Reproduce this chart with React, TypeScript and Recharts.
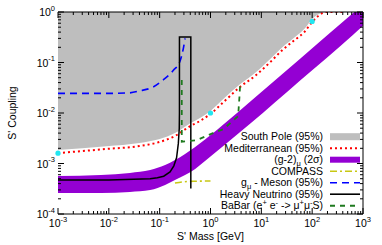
import React from 'react';
import { Area, ComposedChart, Line, Scatter, XAxis, YAxis } from 'recharts';

const FONT = '"Liberation Sans", Arial, Helvetica, sans-serif';

// axis decades (tick labels are 10^n)
const xDecades = [-3, -2, -1, 0, 1, 2, 3];
const yDecades = [-4, -3, -2, -1, 0];

// South Pole (95%): excluded region above this edge
const southPoleMass = [0.001, 0.009, 0.04, 0.1, 0.2, 0.4, 0.62, 1, 1.9, 3.8, 7.5, 15, 26, 48, 70, 100, 165];
const southPoleEdge = [1.85e-3, 2.2e-3, 2.55e-3, 3.05e-3, 4.0e-3, 6.3e-3, 8.0e-3, 0.011, 0.02, 0.037, 0.062, 0.117, 0.2, 0.33, 0.46, 0.73, 1.0];

// Mediterranean (95%)
const medMass = [0.001, 0.009, 0.04, 0.1, 0.2, 0.4, 0.62, 1, 1.9, 3.8, 7.5, 15, 26, 48, 70, 100, 190, 400];
const medCoupling = [1.61e-3, 1.94e-3, 2.22e-3, 2.67e-3, 3.5e-3, 5.5e-3, 6.95e-3, 9.6e-3, 0.0173, 0.0327, 0.054, 0.102, 0.177, 0.292, 0.4, 0.634, 1.0, 1.0];

// (g-2)_mu 2 sigma band
const g2Mass = [0.001, 0.007, 0.026, 0.065, 0.128, 0.2, 0.316, 0.5, 0.78, 6, 58, 640, 1000];
const g2Low = [2.6e-4, 2.6e-4, 2.73e-4, 2.98e-4, 3.75e-4, 4.7e-4, 5.9e-4, 7.8e-4, 1.12e-3, 6.1e-3, 0.044, 0.356, 0.537];
const g2High = [5.65e-4, 5.9e-4, 6.5e-4, 7.4e-4, 9.3e-4, 1.17e-3, 1.54e-3, 2.12e-3, 2.98e-3, 0.0167, 0.119, 0.955, 1.4];

// COMPASS
const compassMass = [0.2, 0.3, 0.5, 1.0];
const compassCoupling = [4.1e-4, 4.35e-4, 4.45e-4, 4.5e-4];

// g_mu - Meson (95%)
const mesonMass = [0.001, 0.01, 0.025, 0.041, 0.076, 0.117, 0.186, 0.25, 0.295, 0.316];
const mesonCoupling = [0.0245, 0.0245, 0.025, 0.0275, 0.033, 0.045, 0.07, 0.105, 0.2, 0.3];

// Heavy Neutrino (95%)
const hnMass = [0.001, 0.01, 0.065, 0.09, 0.12, 0.16, 0.19, 0.215, 0.233, 0.243, 0.245, 0.245, 0.41, 0.41];
const hnCoupling = [4.7e-4, 4.7e-4, 5.0e-4, 5.2e-4, 5.6e-4, 6.8e-4, 9e-4, 1.3e-3, 2.5e-3, 5e-3, 0.01, 0.32, 0.32, 3.2e-4];

// BaBar (e+ e- -> mu+ mu- S)
const babarMass = [0.272, 0.272, 0.54, 1.12, 1.8, 2.63, 3.5, 3.7, 3.83];
const babarCoupling = [0.045, 0.0027, 0.0029, 0.004, 0.0048, 0.0067, 0.0087, 0.02, 0.036];

// cyan markers
const markMass = [0.001, 1, 100];
const markCoupling = [1.6e-3, 0.01, 0.65];

const pts = (xs: number[], ys: number[]) => xs.map((x, i) => ({ x, y: ys[i] }));

const southPoleData = southPoleMass.map((x, i) => ({ x, lo: southPoleEdge[i], hi: 1 }));
const g2Data = g2Mass.map((x, i) => ({ x, lo: g2Low[i], hi: g2High[i] }));

const minorOf = (decades: number[]) => {
  const out: number[] = [];
  decades.forEach((d, i) => {
    out.push(Math.pow(10, d));
    if (i < decades.length - 1) for (let k = 2; k <= 9; k++) out.push(k * Math.pow(10, d));
  });
  return out;
};
const xTicks = minorOf(xDecades);
const yTicks = minorOf(yDecades);

const exp = (v: number) => Math.log10(v);
const isDecade = (v: number) => Math.abs(exp(v) - Math.round(exp(v))) < 1e-6;

// plot box edges (chart margins + axis sizes)
const LEFT = 58;
const RIGHT = 363;

const MAJ = 6;
const MIN = 3;

function BottomTick({ x, y, payload }: any) {
  const v = payload.value;
  const major = isDecade(v);
  return (
    <g>
      <line x1={x} x2={x} y1={y} y2={y - (major ? MAJ : MIN)} stroke="#000" />
      {major && (
        <text x={x} y={y + 13} textAnchor="middle" fontSize={10.5} fontFamily={FONT} fill="#000">
          10
          <tspan dy={-5.5} fontSize={7.5}>{Math.round(exp(v))}</tspan>
        </text>
      )}
    </g>
  );
}

function TopTick({ x, y, payload }: any) {
  const major = isDecade(payload.value);
  return <line x1={x} x2={x} y1={y} y2={y + (major ? MAJ : MIN)} stroke="#000" />;
}

function LeftTick({ y, payload }: any) {
  const v = payload.value;
  const major = isDecade(v);
  return (
    <g>
      <line x1={LEFT} x2={LEFT + (major ? MAJ : MIN)} y1={y} y2={y} stroke="#000" />
      {major && (
        <text x={LEFT - 3} y={y + 4} textAnchor="end" fontSize={10.5} fontFamily={FONT} fill="#000">
          10
          <tspan dy={-5.5} fontSize={7.5}>{Math.round(exp(v))}</tspan>
        </text>
      )}
    </g>
  );
}

function RightTick({ y, payload }: any) {
  const major = isDecade(payload.value);
  return <line x1={RIGHT} x2={RIGHT - (major ? MAJ : MIN)} y1={y} y2={y} stroke="#000" />;
}

const Dot = ({ cx, cy }: any) => <circle cx={cx} cy={cy} r={2.6} fill="#22e6f0" />;

const colors = {
  south: '#bebebe',
  med: '#ff0000',
  g2: '#9400d3',
  compass: '#c8c814',
  meson: '#0000ff',
  hn: '#000000',
  babar: '#1f7a1f',
};

function Legend() {
  const right = 323;
  const sx = 330;
  const sw = 30;
  const rows = [136.7, 148.2, 159.7, 171.2, 182.7, 194.2, 205.7];
  const t = (i: number, children: React.ReactNode) => (
    <text x={right} y={rows[i] + 3.7} textAnchor="end" fontSize={10.5} fontFamily={FONT} fill="#000">
      {children}
    </text>
  );
  const ln = (i: number, stroke: string, dash?: string, w = 1.6) => (
    <line x1={sx} x2={sx + sw} y1={rows[i]} y2={rows[i]} stroke={stroke} strokeWidth={w} strokeDasharray={dash} />
  );
  return (
    <svg width={382} height={245} style={{ position: 'absolute', left: 0, top: 0, pointerEvents: 'none' }}>
      {t(0, 'South Pole (95%)')}
      <rect x={sx} y={rows[0] - 3.5} width={sw} height={7} fill={colors.south} />
      {t(1, 'Mediterranean (95%)')}
      {ln(1, colors.med, '2 3', 2)}
      {t(2, (
        <>
          (g-2)<tspan dy={2.5} fontSize={7.5}>μ</tspan>
          <tspan dy={-2.5}> (2σ)</tspan>
        </>
      ))}
      <rect x={sx} y={rows[2] - 3} width={sw} height={6} fill={colors.g2} />
      {t(3, 'COMPASS')}
      {ln(3, colors.compass, '7 3 2 3')}
      {t(4, (
        <>
          g<tspan dy={2.5} fontSize={7.5}>μ</tspan>
          <tspan dy={-2.5}> - Meson (95%)</tspan>
        </>
      ))}
      {ln(4, colors.meson, '7 5')}
      {t(5, 'Heavy Neutrino (95%)')}
      {ln(5, colors.hn)}
      {t(6, (
        <>
          BaBar (e<tspan dy={-4} fontSize={7.5}>+</tspan>
          <tspan dy={4}> e</tspan>
          <tspan dy={-4} fontSize={7.5}>-</tspan>
          <tspan dy={4}> -&gt; μ</tspan>
          <tspan dy={-4} fontSize={7.5}>+</tspan>
          <tspan dy={4}>μ</tspan>
          <tspan dy={-4} fontSize={7.5}>-</tspan>
          <tspan dy={4}>S)</tspan>
        </>
      ))}
      {ln(6, colors.babar, '5 5', 2)}
      <text x={13} y={113} transform="rotate(-90 13 113)" textAnchor="middle" fontSize={10.5} fontFamily={FONT} fill="#000" dominantBaseline="middle">
        S' Coupling
      </text>
      <text x={210.5} y={239.5} textAnchor="middle" fontSize={10.5} fontFamily={FONT} fill="#000">
        S' Mass [GeV]
      </text>
    </svg>
  );
}

export default function App() {
  const axisCommon = {
    type: 'number' as const,
    scale: 'log' as const,
    tickLine: false,
    tickSize: 0,
    tickMargin: 0,
    interval: 0 as const,
    axisLine: { stroke: '#000', strokeWidth: 1 },
  };
  return (
    <div style={{ position: 'absolute', left: 0, top: 0, width: 382, height: 245, background: '#fff' }}>
      <ComposedChart width={382} height={245} margin={{ top: 10, right: 17, bottom: 11, left: 8 }}>
        <XAxis {...axisCommon} xAxisId="main" dataKey="x" domain={[1e-3, 1e3]} ticks={xTicks} height={20} tick={<BottomTick />} />
        <XAxis {...axisCommon} xAxisId="top" orientation="top" dataKey="x" domain={[1e-3, 1e3]} ticks={xTicks} height={2} allowDataOverflow tick={<TopTick />} />
        <YAxis {...axisCommon} yAxisId="main" domain={[1e-4, 1]} ticks={yTicks} width={50} allowDataOverflow tick={<LeftTick />} />
        <YAxis {...axisCommon} yAxisId="right" orientation="right" domain={[1e-4, 1]} ticks={yTicks} width={2} allowDataOverflow tick={<RightTick />} />
        <YAxis yAxisId="dots" type="number" scale="log" domain={[1e-4, 1]} hide />

        <Area
          xAxisId="main"
          yAxisId="main"
          data={southPoleData}
          dataKey={(d: any) => [d.lo, d.hi]}
          type="monotone"
          stroke="none"
          fill={colors.south}
          fillOpacity={1}
          isAnimationActive={false}
        />
        <Line xAxisId="main" yAxisId="main" data={pts(medMass, medCoupling)} dataKey="y" type="monotone" stroke={colors.med} strokeWidth={2} strokeDasharray="2 3" dot={false} isAnimationActive={false} />
        <Area
          xAxisId="main"
          yAxisId="main"
          data={g2Data}
          dataKey={(d: any) => [d.lo, d.hi]}
          type="monotone"
          stroke="none"
          fill={colors.g2}
          fillOpacity={1}
          isAnimationActive={false}
        />
        <Line xAxisId="main" yAxisId="main" data={pts(compassMass, compassCoupling)} dataKey="y" type="monotone" stroke={colors.compass} strokeWidth={1.6} strokeDasharray="7 3 2 3" dot={false} isAnimationActive={false} />
        <Line xAxisId="main" yAxisId="main" data={pts(mesonMass, mesonCoupling)} dataKey="y" type="monotone" stroke={colors.meson} strokeWidth={1.6} strokeDasharray="7 5" dot={false} isAnimationActive={false} />
        <Line xAxisId="main" yAxisId="main" data={pts(hnMass, hnCoupling)} dataKey="y" type="linear" stroke={colors.hn} strokeWidth={1.5} dot={false} isAnimationActive={false} />
        <Line xAxisId="main" yAxisId="main" data={pts(babarMass, babarCoupling)} dataKey="y" type="linear" stroke={colors.babar} strokeWidth={1.8} strokeDasharray="5 5" dot={false} isAnimationActive={false} />
        <Scatter xAxisId="main" yAxisId="dots" data={pts(markMass, markCoupling)} dataKey="y" shape={<Dot />} isAnimationActive={false} />
      </ComposedChart>
      <Legend />
    </div>
  );
}
